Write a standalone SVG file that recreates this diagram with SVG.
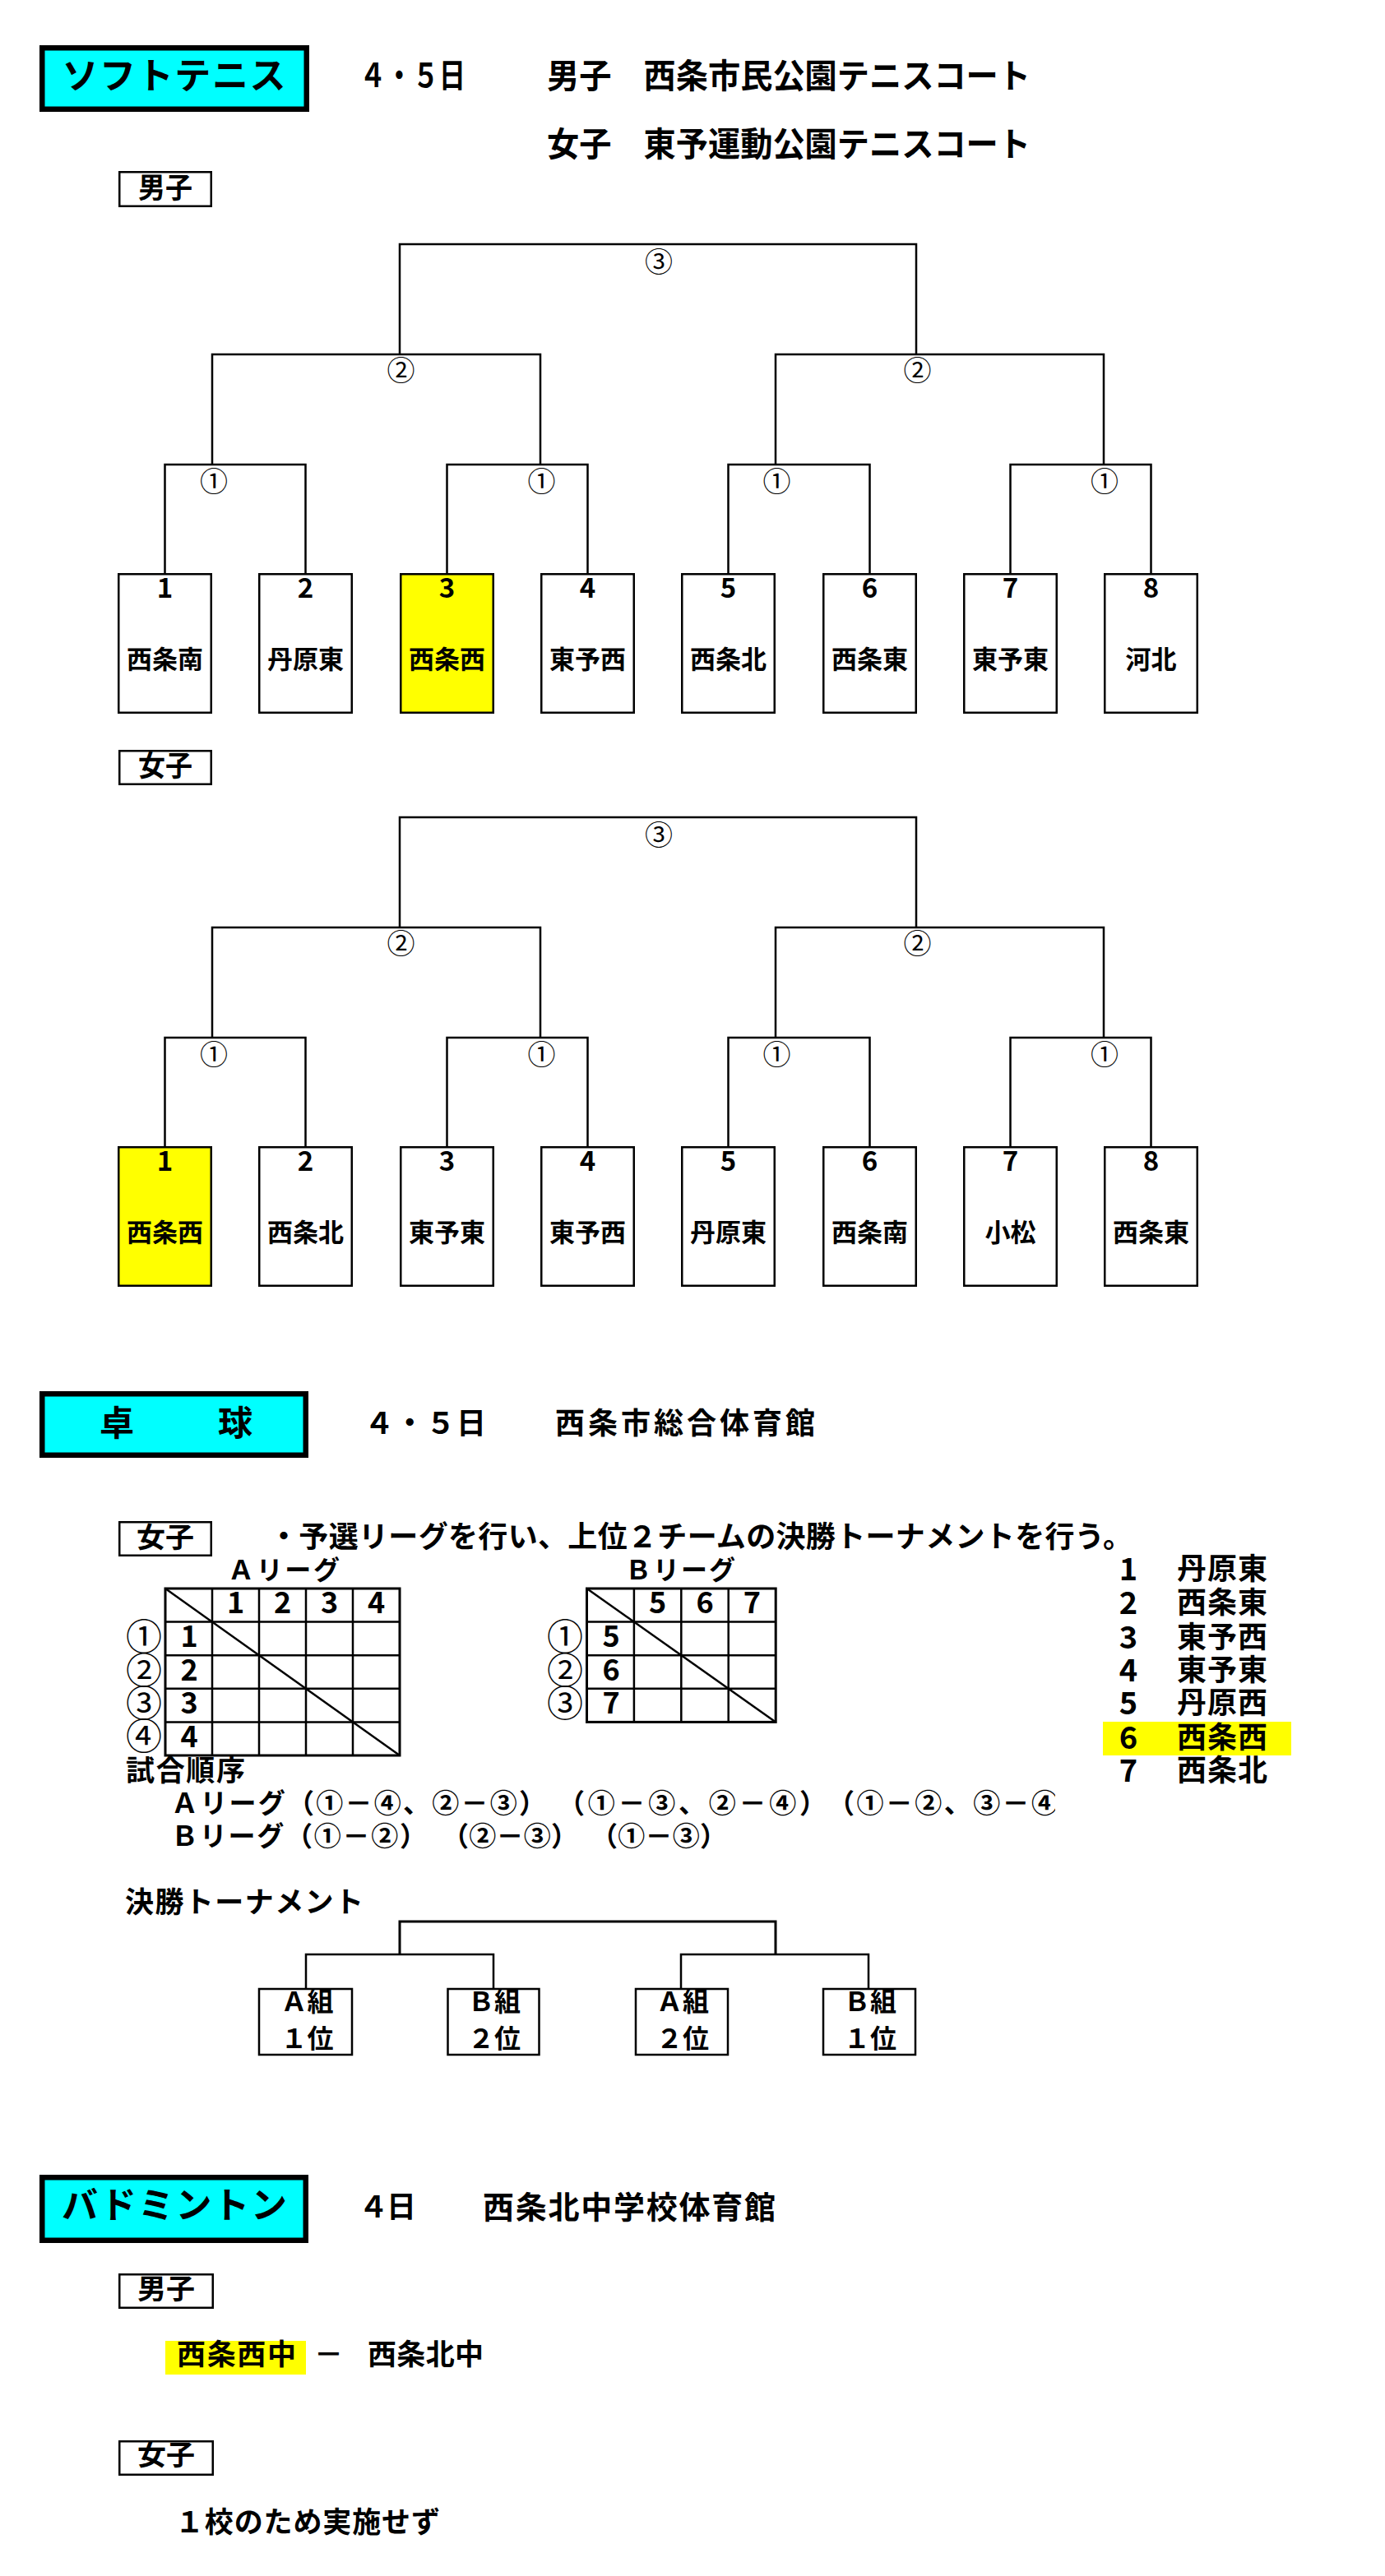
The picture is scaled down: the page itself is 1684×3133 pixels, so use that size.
<svg xmlns="http://www.w3.org/2000/svg" width="1684" height="3133" viewBox="0 0 1684 3133">
<defs>
<style>
.t{font-family:"Noto Sans CJK JP","Noto Sans CJK SC",sans-serif;font-weight:700;fill:#000}
.m{text-anchor:middle}
.ln{stroke:#000;stroke-width:2.5;fill:none}
.ln3{stroke:#000;stroke-width:3;fill:none}
.bx{fill:#fff;stroke:#000;stroke-width:2.5}
.yb{fill:#ffff00;stroke:#000;stroke-width:2.5}
.hl{fill:#ffff00}
.ttl{fill:#00ffff;stroke:#000;stroke-width:6.5}
.lbl{fill:#fff;stroke:#000;stroke-width:2.5}
.num{font-size:33px}
.nm{font-size:31px}
.c1{font-size:34px;font-weight:400}
.tc{font-size:44px;font-weight:400}
.td{font-size:36px}
</style>
<clipPath id="clipA"><rect x="0" y="2160" width="1283" height="60"/></clipPath>
</defs>
<rect width="1684" height="3133" fill="#fff"/>

<!-- ===== Soft tennis header ===== -->
<g id="softtennis-title">
<rect class="ttl" x="51.25" y="58.25" width="321.5" height="74.5"/>
<text class="t m" x="211.5" y="108" font-size="44" textLength="272">ソフトテニス</text>
</g>
<g id="softtennis-info">
<text class="t" x="437" y="106" font-size="40" textLength="129" lengthAdjust="spacingAndGlyphs">４・５日</text>
<text class="t" x="665" y="107" font-size="41" textLength="588" lengthAdjust="spacingAndGlyphs">男子　西条市民公園テニスコート</text>
<text class="t" x="665" y="190" font-size="41" textLength="588" lengthAdjust="spacingAndGlyphs">女子　東予運動公園テニスコート</text>
</g>

<!-- ===== Men label ===== -->
<g id="st-men-label">
<rect class="lbl" x="145.25" y="209.25" width="111.5" height="41.5"/>
<text class="t m" x="201" y="241" font-size="35" textLength="66" lengthAdjust="spacingAndGlyphs">男子</text>
</g>

<!-- ===== Connectors ===== -->
<g id="connectors">
<!-- men -->
<path class="ln" d="M200.5,697 V565 H371.5 V697"/>
<path class="ln" d="M543.5,697 V565 H714.5 V697"/>
<path class="ln" d="M885.5,697 V565 H1057.5 V697"/>
<path class="ln" d="M1228.5,697 V565 H1399.5 V697"/>
<path class="ln" d="M258,565 V431 H657 V565"/>
<path class="ln" d="M943,565 V431 H1342 V565"/>
<path class="ln" d="M486,431 V297 H1114 V431"/>
<!-- women -->
<path class="ln" d="M200.5,1394 V1262 H371.5 V1394"/>
<path class="ln" d="M543.5,1394 V1262 H714.5 V1394"/>
<path class="ln" d="M885.5,1394 V1262 H1057.5 V1394"/>
<path class="ln" d="M1228.5,1394 V1262 H1399.5 V1394"/>
<path class="ln" d="M258,1262 V1128 H657 V1262"/>
<path class="ln" d="M943,1262 V1128 H1342 V1262"/>
<path class="ln" d="M486,1128 V994 H1114 V1128"/>
<!-- table tennis final -->
<path class="ln3" d="M486,2377 V2337 H943 V2377"/>
<path class="ln" d="M372,2418 V2377 H600 V2418"/>
<path class="ln" d="M828,2418 V2377 H1056 V2418"/>
</g>

<!-- round labels men -->
<g id="st-men-rounds">
<text class="t m c1" x="801" y="331">③</text>
<text class="t m c1" x="487.5" y="463">②</text>
<text class="t m c1" x="1115.5" y="463">②</text>
<text class="t m c1" x="260" y="597.5">①</text>
<text class="t m c1" x="658.5" y="597.5">①</text>
<text class="t m c1" x="944.5" y="597.5">①</text>
<text class="t m c1" x="1343" y="597.5">①</text>
</g>

<!-- men boxes -->
<g id="m1"><rect class="bx" x="144.25" y="698.25" width="112.5" height="168.5"/><text class="t m num" x="200.5" y="727">1</text><text class="t m nm" x="200.5" y="813">西条南</text></g>
<g id="m2"><rect class="bx" x="315.25" y="698.25" width="112.5" height="168.5"/><text class="t m num" x="371.5" y="727">2</text><text class="t m nm" x="371.5" y="813">丹原東</text></g>
<g id="m3"><rect class="yb" x="487.25" y="698.25" width="112.5" height="168.5"/><text class="t m num" x="543.5" y="727">3</text><text class="t m nm" x="543.5" y="813">西条西</text></g>
<g id="m4"><rect class="bx" x="658.25" y="698.25" width="112.5" height="168.5"/><text class="t m num" x="714.5" y="727">4</text><text class="t m nm" x="714.5" y="813">東予西</text></g>
<g id="m5"><rect class="bx" x="829.25" y="698.25" width="112.5" height="168.5"/><text class="t m num" x="885.5" y="727">5</text><text class="t m nm" x="885.5" y="813">西条北</text></g>
<g id="m6"><rect class="bx" x="1001.25" y="698.25" width="112.5" height="168.5"/><text class="t m num" x="1057.5" y="727">6</text><text class="t m nm" x="1057.5" y="813">西条東</text></g>
<g id="m7"><rect class="bx" x="1172.25" y="698.25" width="112.5" height="168.5"/><text class="t m num" x="1228.5" y="727">7</text><text class="t m nm" x="1228.5" y="813">東予東</text></g>
<g id="m8"><rect class="bx" x="1343.25" y="698.25" width="112.5" height="168.5"/><text class="t m num" x="1399.5" y="727">8</text><text class="t m nm" x="1399.5" y="813">河北</text></g>

<!-- ===== Women label ===== -->
<g id="st-women-label">
<rect class="lbl" x="145.25" y="913.25" width="111.5" height="40.5"/>
<text class="t m" x="201" y="944" font-size="35" textLength="66" lengthAdjust="spacingAndGlyphs">女子</text>
</g>

<g id="st-women-rounds">
<text class="t m c1" x="801" y="1028">③</text>
<text class="t m c1" x="487.5" y="1160">②</text>
<text class="t m c1" x="1115.5" y="1160">②</text>
<text class="t m c1" x="260" y="1294.5">①</text>
<text class="t m c1" x="658.5" y="1294.5">①</text>
<text class="t m c1" x="944.5" y="1294.5">①</text>
<text class="t m c1" x="1343" y="1294.5">①</text>
</g>

<g id="w1"><rect class="yb" x="144.25" y="1395.25" width="112.5" height="168.5"/><text class="t m num" x="200.5" y="1424">1</text><text class="t m nm" x="200.5" y="1510">西条西</text></g>
<g id="w2"><rect class="bx" x="315.25" y="1395.25" width="112.5" height="168.5"/><text class="t m num" x="371.5" y="1424">2</text><text class="t m nm" x="371.5" y="1510">西条北</text></g>
<g id="w3"><rect class="bx" x="487.25" y="1395.25" width="112.5" height="168.5"/><text class="t m num" x="543.5" y="1424">3</text><text class="t m nm" x="543.5" y="1510">東予東</text></g>
<g id="w4"><rect class="bx" x="658.25" y="1395.25" width="112.5" height="168.5"/><text class="t m num" x="714.5" y="1424">4</text><text class="t m nm" x="714.5" y="1510">東予西</text></g>
<g id="w5"><rect class="bx" x="829.25" y="1395.25" width="112.5" height="168.5"/><text class="t m num" x="885.5" y="1424">5</text><text class="t m nm" x="885.5" y="1510">丹原東</text></g>
<g id="w6"><rect class="bx" x="1001.25" y="1395.25" width="112.5" height="168.5"/><text class="t m num" x="1057.5" y="1424">6</text><text class="t m nm" x="1057.5" y="1510">西条南</text></g>
<g id="w7"><rect class="bx" x="1172.25" y="1395.25" width="112.5" height="168.5"/><text class="t m num" x="1228.5" y="1424">7</text><text class="t m nm" x="1228.5" y="1510">小松</text></g>
<g id="w8"><rect class="bx" x="1343.25" y="1395.25" width="112.5" height="168.5"/><text class="t m num" x="1399.5" y="1424">8</text><text class="t m nm" x="1399.5" y="1510">西条東</text></g>

<!-- ===== Table tennis ===== -->
<g id="tabletennis-title">
<rect class="ttl" x="51.25" y="1695.25" width="320.5" height="74.5"/>
<text class="t" x="121" y="1746" font-size="42" textLength="186">卓　　球</text>
</g>
<g id="tabletennis-info">
<text class="t" x="443" y="1744" font-size="36" textLength="148">４・５日</text>
<text class="t" x="675" y="1744" font-size="36" textLength="316">西条市総合体育館</text>
</g>

<g id="tt-women-label">
<rect class="lbl" x="145.25" y="1851.25" width="111.5" height="40.5"/>
<text class="t m" x="201" y="1881.5" font-size="34" textLength="70" lengthAdjust="spacingAndGlyphs">女子</text>
</g>
<g id="tt-note">
<text class="t" x="327" y="1881.5" font-size="36" textLength="1050">・予選リーグを行い、上位２チームの決勝トーナメントを行う。</text>
</g>

<!-- A league -->
<g id="a-league">
<text class="t" x="277" y="1920.5" font-size="32" textLength="136">Ａリーグ</text>
<rect x="201" y="1932" width="285" height="203" fill="none" stroke="#000" stroke-width="3"/>
<path class="ln" d="M258,1932 V2135 M315,1932 V2135 M372,1932 V2135 M429,1932 V2135 M201,1972.6 H486 M201,2013.2 H486 M201,2053.8 H486 M201,2094.4 H486"/>
<path class="ln" d="M201,1932 L486,2135"/>
<text class="t m td" x="286.5" y="1962">1</text>
<text class="t m td" x="343.5" y="1962">2</text>
<text class="t m td" x="400.5" y="1962">3</text>
<text class="t m td" x="457.5" y="1962">4</text>
<text class="t m td" x="230" y="2003">1</text>
<text class="t m td" x="230" y="2043.6">2</text>
<text class="t m td" x="230" y="2084.2">3</text>
<text class="t m td" x="230" y="2124.8">4</text>
<text class="t m tc" x="175" y="2006.7">①</text>
<text class="t m tc" x="175" y="2047.5">②</text>
<text class="t m tc" x="175" y="2088">③</text>
<text class="t m tc" x="175" y="2128">④</text>
</g>

<!-- B league -->
<g id="b-league">
<text class="t" x="760" y="1920.5" font-size="32" textLength="134">Ｂリーグ</text>
<rect x="713.5" y="1932" width="229.7" height="162.4" fill="none" stroke="#000" stroke-width="3"/>
<path class="ln" d="M770.9,1932 V2094.4 M828.3,1932 V2094.4 M885.7,1932 V2094.4 M713.5,1972.6 H943.2 M713.5,2013.2 H943.2 M713.5,2053.8 H943.2"/>
<path class="ln" d="M713.5,1932 L943.2,2094.4"/>
<text class="t m td" x="799.6" y="1962">5</text>
<text class="t m td" x="857" y="1962">6</text>
<text class="t m td" x="914.4" y="1962">7</text>
<text class="t m td" x="743" y="2003">5</text>
<text class="t m td" x="743" y="2043.6">6</text>
<text class="t m td" x="743" y="2084.2">7</text>
<text class="t m tc" x="687" y="2006.7">①</text>
<text class="t m tc" x="687" y="2047.5">②</text>
<text class="t m tc" x="687" y="2088">③</text>
</g>

<!-- team list -->
<g id="tt-list">
<rect class="hl" x="1341" y="2094" width="229" height="41"/>
<text class="t m" x="1372" y="1922" font-size="38">1</text><text class="t" x="1431" y="1920.5" font-size="36" textLength="110">丹原東</text>
<text class="t m" x="1372" y="1963" font-size="38">2</text><text class="t" x="1431" y="1962" font-size="36" textLength="110">西条東</text>
<text class="t m" x="1372" y="2005" font-size="38">3</text><text class="t" x="1431" y="2004" font-size="36" textLength="110">東予西</text>
<text class="t m" x="1372" y="2045" font-size="38">4</text><text class="t" x="1431" y="2044" font-size="36" textLength="110">東予東</text>
<text class="t m" x="1372" y="2085" font-size="38">5</text><text class="t" x="1431" y="2084" font-size="36" textLength="110">丹原西</text>
<text class="t m" x="1372" y="2127" font-size="38">6</text><text class="t" x="1431" y="2125.5" font-size="36" textLength="110">西条西</text>
<text class="t m" x="1372" y="2167" font-size="38">7</text><text class="t" x="1431" y="2165.5" font-size="36" textLength="110">西条北</text>
</g>

<!-- match order -->
<g id="match-order">
<text class="t" x="153" y="2166" font-size="35" textLength="145">試合順序</text>
<text class="t" x="208" y="2205" font-size="33" textLength="456">Ａリーグ（①－④、②－③）</text>
<text class="t" x="678" y="2205" font-size="33" textLength="327">（①－③、②－④）</text>
<g clip-path="url(#clipA)"><text class="t" x="1006" y="2205" font-size="33" textLength="281">（①－②、③－④</text></g>
<text class="t" x="208" y="2244.5" font-size="33" textLength="311">Ｂリーグ（①－②）</text>
<text class="t" x="537" y="2244.5" font-size="33" textLength="166">（②－③）</text>
<text class="t" x="718" y="2244.5" font-size="33" textLength="166">（①－③）</text>
</g>

<!-- final tournament -->
<g id="final-title"><text class="t" x="152" y="2326" font-size="35" textLength="290">決勝トーナメント</text></g>
<g id="f1"><rect class="bx" x="315" y="2419" width="113" height="80"/><text class="t m" x="373.5" y="2446" font-size="32">Ａ組</text><text class="t m" x="373.5" y="2491" font-size="32">１位</text></g>
<g id="f2"><rect class="bx" x="544.5" y="2419" width="111" height="80"/><text class="t m" x="601" y="2446" font-size="32">Ｂ組</text><text class="t m" x="601" y="2491" font-size="32">２位</text></g>
<g id="f3"><rect class="bx" x="773" y="2419" width="112" height="80"/><text class="t m" x="830" y="2446" font-size="32">Ａ組</text><text class="t m" x="830" y="2491" font-size="32">２位</text></g>
<g id="f4"><rect class="bx" x="1001" y="2419" width="112" height="80"/><text class="t m" x="1058" y="2446" font-size="32">Ｂ組</text><text class="t m" x="1058" y="2491" font-size="32">１位</text></g>

<!-- ===== Badminton ===== -->
<g id="badminton-title">
<rect class="ttl" x="51.25" y="2648.25" width="320.5" height="76.5"/>
<text class="t m" x="212" y="2698" font-size="44" textLength="274">バドミントン</text>
</g>
<g id="badminton-info">
<text class="t" x="436" y="2697" font-size="36" textLength="70">４日</text>
<text class="t" x="587" y="2698" font-size="38" textLength="356">西条北中学校体育館</text>
</g>
<g id="bd-men-label">
<rect class="lbl" x="145.25" y="2766.25" width="113.5" height="40.5"/>
<text class="t m" x="202" y="2795.5" font-size="34" textLength="70" lengthAdjust="spacingAndGlyphs">男子</text>
</g>
<g id="bd-men-match">
<rect class="hl" x="201" y="2847" width="171" height="41"/>
<text class="t" x="215" y="2876" font-size="35" textLength="145">西条西中</text>
<text class="t" x="382" y="2876" font-size="35">－</text>
<text class="t" x="447" y="2876" font-size="35" textLength="141">西条北中</text>
</g>
<g id="bd-women-label">
<rect class="lbl" x="145.25" y="2969.25" width="113.5" height="40.5"/>
<text class="t m" x="202" y="2998" font-size="34" textLength="70" lengthAdjust="spacingAndGlyphs">女子</text>
</g>
<g id="bd-women-note">
<text class="t" x="213" y="3080" font-size="35" textLength="322">１校のため実施せず</text>
</g>
</svg>
